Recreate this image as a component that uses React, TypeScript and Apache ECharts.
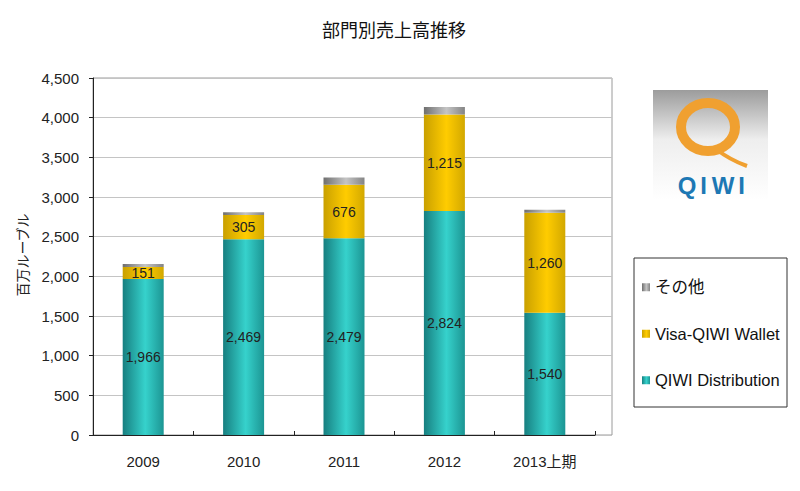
import React, { useEffect, useRef } from "react";
import * as echarts from "echarts";

const categories = ["2009", "2010", "2011", "2012", "2013上期"];
const distribution = [1966, 2469, 2479, 2824, 1540];
const wallet = [151, 305, 676, 1215, 1260];
const other = [40, 35, 90, 95, 40];
const seriesNames = ["QIWI Distribution", "Visa-QIWI Wallet", "その他"];
const legendOrder = ["その他", "Visa-QIWI Wallet", "QIWI Distribution"];

const FONT = "'Liberation Sans', Arial, 'Noto Sans CJK JP', sans-serif";

const hGrad = (a: string, b: string, c: string) =>
  new echarts.graphic.LinearGradient(0, 0, 1, 0, [
    { offset: 0, color: a },
    { offset: 0.55, color: b },
    { offset: 1, color: c },
  ]);

export default function App() {
  const ref = useRef<HTMLDivElement>(null);
  useEffect(() => {
    if (!ref.current) return;
    const chart = echarts.init(ref.current, undefined, { renderer: "svg" });
    const labelFmt = (p: any) => Number(p.value).toLocaleString("en-US");
    const teal = hGrad("#177f80", "#36d2cc", "#1c9593");
    const yellow = hGrad("#c9a000", "#ffcc00", "#d2a800");
    const gray = hGrad("#6f6f6f", "#c4c4c4", "#848484");
    const common = {
      type: "bar",
      stack: "total",
      xAxisIndex: 1,
      yAxisIndex: 1,
      barWidth: 41,
    };
    const dataLabel = {
      show: true,
      position: "inside",
      color: "#222",
      fontSize: 14,
      fontFamily: FONT,
      formatter: labelFmt,
    };
    chart.setOption({
      animation: false,
      backgroundColor: "#ffffff",
      textStyle: { fontFamily: FONT },
      title: {
        text: "部門別売上高推移",
        left: 389,
        top: 15,
        textAlign: "center",
        textStyle: {
          fontFamily: "'Noto Sans CJK JP', sans-serif",
          fontSize: 18,
          fontWeight: "normal",
          color: "#111",
        },
      },
      grid: [
        { left: 93, right: 188, top: 78, bottom: 56, show: true, borderColor: "#9a9a9a", borderWidth: 1 },
        { left: 93, right: 205, top: 78, bottom: 56 },
      ],
      xAxis: [
        { gridIndex: 0, type: "value", show: false, min: 0, max: 1 },
        {
          gridIndex: 1,
          type: "category",
          data: categories,
          axisLine: { lineStyle: { color: "#222", width: 1 } },
          axisTick: { show: true, inside: true, length: 4, lineStyle: { color: "#222" } },
          axisLabel: { color: "#222", fontSize: 15, margin: 19, fontFamily: FONT },
        },
      ],
      yAxis: [
        {
          gridIndex: 0,
          type: "value",
          min: 0,
          max: 4500,
          interval: 500,
          axisLine: { show: true, lineStyle: { color: "#222" } },
          axisTick: { show: true, length: 4, lineStyle: { color: "#222" } },
          axisLabel: {
            color: "#222",
            fontSize: 15,
            margin: 14,
            fontFamily: FONT,
            formatter: (v: number) => v.toLocaleString("en-US"),
          },
          splitLine: { show: true, lineStyle: { color: "#c4c4c4", width: 1 } },
        },
        { gridIndex: 1, type: "value", min: 0, max: 4500, interval: 500, show: false },
      ],
      legend: {
        orient: "vertical",
        left: 642,
        top: 279,
        data: legendOrder,
        icon: "rect",
        itemWidth: 8,
        itemHeight: 8,
        itemGap: 30,
        padding: 0,
        textStyle: { fontSize: 16.5, color: "#111", fontFamily: FONT },
      },
      series: [
        { ...common, name: seriesNames[0], data: distribution, itemStyle: { color: teal }, label: dataLabel },
        { ...common, name: seriesNames[1], data: wallet, itemStyle: { color: yellow }, label: dataLabel },
        { ...common, name: seriesNames[2], data: other, itemStyle: { color: gray } },
      ],
      graphic: [
        {
          type: "text",
          x: 22,
          y: 255,
          rotation: Math.PI / 2,
          style: {
            text: "百万ルーブル",
            fontSize: 14,
            fontFamily: "'Noto Sans CJK JP', sans-serif",
            fill: "#222",
            textAlign: "center",
            textVerticalAlign: "middle",
          },
        },
        {
          type: "rect",
          shape: { x: 634, y: 258, width: 153, height: 149 },
          style: { fill: "none", stroke: "#333", lineWidth: 1 },
        },
        {
          type: "rect",
          shape: { x: 653, y: 90, width: 115, height: 110 },
          style: {
            fill: new echarts.graphic.LinearGradient(0, 0, 0, 1, [
              { offset: 0, color: "#9c9c9c" },
              { offset: 0.45, color: "#eeeeee" },
              { offset: 1, color: "#ffffff" },
            ]),
          },
        },
        {
          type: "ellipse",
          shape: { cx: 708, cy: 127, rx: 27, ry: 24 },
          style: { fill: "none", stroke: "#f0a030", lineWidth: 10 },
        },
        {
          type: "bezierCurve",
          shape: { x1: 716, y1: 149, x2: 747, y2: 166, cpx1: 730, cpy1: 160 },
          style: { fill: "none", stroke: "#f0a030", lineWidth: 4 },
        },
        {
          type: "circle",
          shape: { cx: 727, cy: 145, r: 2 },
          style: { fill: "#f0a030" },
        },
        ...[
          ["Q", 687],
          ["I", 703.5],
          ["W", 723],
          ["I", 741.5],
        ].map(([t, x]) => ({
          type: "text",
          x: x as number,
          y: 185,
          style: {
            text: t as string,
            fontSize: 24,
            fontWeight: "bold",
            fontFamily: FONT,
            fill: "#1d78b4",
            textAlign: "center",
            textVerticalAlign: "middle",
          },
        })),
      ],
    });
    return () => chart.dispose();
  }, []);
  return (
    <div
      ref={ref}
      style={{ position: "absolute", left: 0, top: 0, width: 800, height: 491 }}
    />
  );
}
